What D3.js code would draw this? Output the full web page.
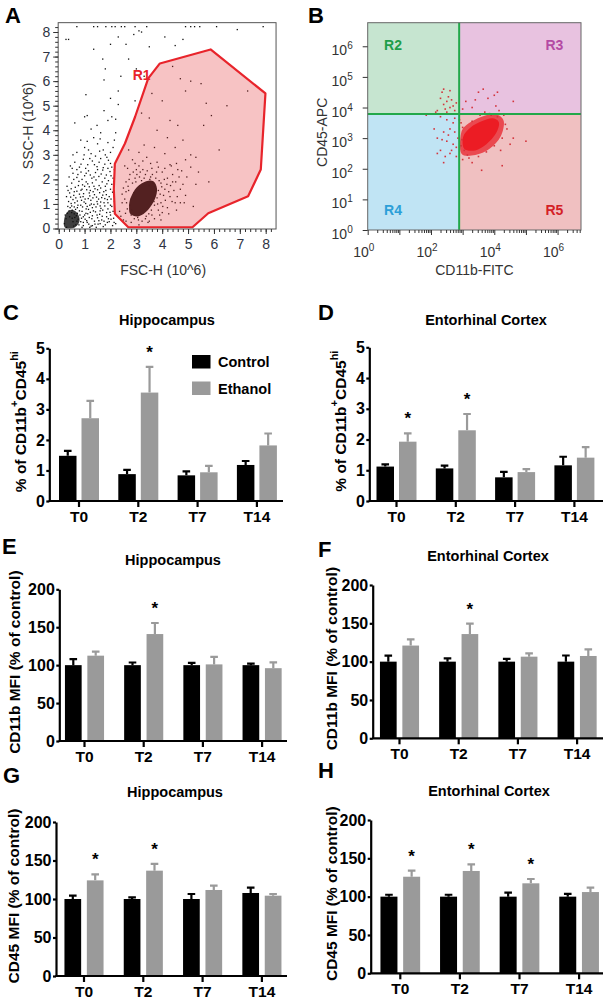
<!DOCTYPE html>
<html>
<head>
<meta charset="utf-8">
<script src="https://cdn.jsdelivr.net/npm/d3@7"></script>
<style>
  body { margin: 0; background: #fff; }
  svg { display: block; }
</style>
</head>
<body>
<svg id="fig" width="608" height="1000"></svg>
<script>
const FONT = 'Arial, "Liberation Sans", Helvetica, sans-serif';

// ---------- panel A : FSC / SSC events (10^6) ----------
const gateR1 = [[2.17,0.6],[2.69,0.05],[5.17,0.05],[5.78,0.62],[7.32,1.31],[7.81,2.4],[7.99,5.5],
  [5.87,7.29],[3.91,6.72],[3.46,6.11],[2.95,4.54],[2.56,3.46],[2.17,2.64],[2.13,1.6]];
const lowCloudCore = [[0.24,0.04],[0.62,0.04],[0.8,0.28],[0.76,0.55],[0.58,0.74],[0.36,0.7],[0.22,0.42]];
const mainCloudCore = [[2.78,0.58],[3.1,0.5],[3.45,0.75],[3.72,1.2],[3.8,1.62],[3.66,1.92],[3.38,1.92],[3.02,1.68],[2.78,1.25],[2.72,0.88]];
const scatterEvents = [
  [0.95,0.12],[1.1,0.25],[1.25,0.1],[1.38,0.3],[1.52,0.18],[1.66,0.35],[1.8,0.15],[1.95,0.28],[2.08,0.12],[1.02,0.38],
  [1.18,0.45],[1.45,0.05],[1.72,0.08],[0.85,0.28],[0.78,0.15],[0.82,0.55],[0.9,0.7],[1.05,0.62],[1.15,0.78],[1.3,0.52],
  [1.42,0.68],[1.58,0.58],[1.7,0.75],[1.85,0.48],[1.98,0.66],[2.12,0.42],[0.72,0.62],[0.95,0.48],[1.22,0.66],[1.5,0.44],
  [1.63,0.82],[0.65,0.78],[1.9,0.8],[0.35,0.9],[0.48,1.02],[0.6,0.88],[0.72,1.12],[0.85,0.95],[0.98,1.08],[1.1,0.9],
  [1.24,1.15],[1.36,0.98],[1.48,1.1],[1.6,0.92],[1.75,1.05],[1.88,1.18],[2.0,0.95],[2.15,1.1],[0.55,1.18],[1.02,1.2],
  [1.3,0.85],[0.3,1.3],[0.42,1.45],[0.58,1.35],[0.7,1.52],[0.84,1.28],[0.96,1.42],[1.08,1.58],[1.2,1.33],[1.33,1.5],
  [1.46,1.28],[1.58,1.46],[1.7,1.36],[1.82,1.55],[1.95,1.3],[2.08,1.48],[0.9,1.6],[1.4,1.62],[0.32,1.72],[0.5,1.85],
  [0.64,1.68],[0.78,1.92],[0.92,1.78],[1.06,1.9],[1.18,1.7],[1.3,1.86],[1.44,1.98],[1.56,1.75],[1.68,1.9],[1.8,1.72],
  [1.92,1.95],[2.05,1.8],[0.4,2.1],[0.55,2.25],[0.7,2.08],[0.86,2.3],[1.0,2.15],[1.15,2.35],[1.28,2.05],[1.42,2.28],
  [1.55,2.12],[1.7,2.38],[1.84,2.18],[1.98,2.32],[2.1,2.05],[0.45,2.55],[0.62,2.7],[0.8,2.5],[0.95,2.82],[1.12,2.6],
  [1.3,2.75],[1.48,2.52],[1.62,2.85],[1.78,2.62],[1.92,2.78],[2.05,2.5],[0.7,3.1],[1.0,3.3],[1.25,3.05],[1.5,3.45],
  [1.72,3.2],[1.9,3.5],[2.1,3.3],[0.85,3.6],[1.35,3.7],[2.2,3.9],[1.0,4.55],[1.1,4.6],[1.48,4.2],[1.62,3.9],
  [1.9,4.4],[2.05,4.55],[2.2,4.45],[2.3,5.05],[0.62,4.3],[1.25,4.05],[1.75,4.8],[2.0,5.3],[1.05,5.45],[1.8,6.5],
  [1.75,6.05],[2.4,6.2],[2.3,5.6],[1.35,7.3],[2.0,7.5],[2.3,7.8],[0.28,7.7],[0.38,7.7],[1.7,6.9],[2.6,7.5],
  [2.9,7.9],[3.2,8.0],[2.7,6.9],[0.7,8.22],[1.35,8.22],[1.5,8.22],[1.82,8.22],[2.05,8.22],[2.18,8.22],[2.42,8.22],
  [2.55,8.22],[2.95,8.22],[3.4,8.22],[4.9,8.22],[5.1,8.22],[5.25,8.22],[5.45,8.22],[6.1,8.22],[7.9,8.22],[4.1,7.8],
  [4.5,7.45],[4.8,7.7],[3.5,7.4],[6.9,8.1],[3.1,8.05],[0.22,0.2],[0.25,0.55],[0.3,0.05],[0.5,0.65],[0.62,0.45],
  [0.7,0.3],[0.58,0.1],[0.4,0.72],[0.28,0.4],[2.05,0.9],[2.2,0.2],[1.2,0.05],[0.9,0.05],
  [0.33,0.62],[0.44,0.85],[0.52,0.42],[0.6,0.6],[0.68,0.52],[0.75,0.38],[0.8,0.72],[0.88,0.42],[0.92,0.88],[1.0,0.55],
  [1.08,0.32],[1.12,0.6],[1.16,0.18],[1.2,0.95],[1.28,0.4],[1.34,0.72],[1.4,0.18],[1.44,0.88],[1.55,0.32],[1.6,0.72],
  [1.68,0.5],[1.75,0.3],[1.78,0.92],[1.85,0.65],[1.92,0.4],[2.0,0.55],[2.1,0.7],[0.38,1.1],[0.46,1.28],[0.52,0.75],
  [0.62,1.05],[0.66,1.25],[0.74,0.95],[0.8,1.4],[0.88,1.15],[0.94,1.3],[1.04,1.02],[1.14,1.22],[1.18,1.45],[1.26,1.0],
  [1.32,1.25],[1.38,1.38],[1.5,1.0],[1.54,1.2],[1.62,1.08],[1.66,1.26],[1.78,1.22],[1.84,1.38],[1.9,1.05],[2.02,1.2],
  [0.36,1.55],[0.48,1.62],[0.6,1.5],[0.76,1.75],[0.86,1.56],[1.0,1.72],[1.12,1.82],[1.22,1.55],[1.36,1.72],[1.5,1.58],
  [1.62,1.65],[1.74,1.5],[1.86,1.82],[2.0,1.6],[2.12,1.9],[0.58,2.0],[0.74,2.2],[0.9,2.0],[1.06,2.25],[1.22,2.18],
  [1.36,2.1],[1.5,2.4],[1.64,2.22],[1.78,2.05],[1.9,2.45],[2.02,2.15],[0.52,2.45],[0.7,2.4],[0.86,2.62],[1.04,2.45],
  [1.2,2.85],[1.38,2.6],[1.56,2.7],[1.72,2.48],[1.86,2.9],[2.0,2.65],[2.15,2.4],[0.42,0.48],[0.55,0.28],[0.66,0.15],
  [0.72,0.85],[0.5,0.92],[0.95,0.25],[1.06,0.8],[1.3,0.12],[1.48,0.55],[1.6,0.2],[1.88,0.25],[2.02,0.38],[2.14,0.25],
  [0.98,3.0],[1.15,3.2],[1.42,2.95],[1.58,3.15],[1.8,3.0],[2.0,3.1],[0.55,3.0],[1.1,3.55],[1.6,3.65],[2.15,3.6],
  // inside R1
  [2.55,2.55],[2.6,1.5],[2.45,1.05],[2.35,0.7],[2.5,0.35],[2.8,0.25],[3.1,0.15],[3.5,0.3],[3.9,0.55],[4.2,0.85],
  [4.5,1.05],[4.9,1.35],[5.3,1.8],[5.4,2.3],[5.8,1.9],[4.7,1.6],[4.4,1.9],[4.6,2.4],[4.9,2.8],[4.3,2.6],
  [4.0,2.3],[3.8,2.7],[3.4,2.9],[3.1,3.1],[2.85,2.8],[3.3,3.4],[3.7,3.3],[4.1,3.05],[4.5,3.3],[4.8,3.6],
  [5.1,3.0],[5.3,2.9],[4.2,3.7],[3.8,4.0],[3.5,4.5],[3.2,4.7],[3.6,5.5],[4.0,5.2],[4.3,4.4],[4.6,4.2],
  [4.9,5.6],[5.1,6.0],[4.7,6.1],[5.5,5.9],[5.7,5.1],[5.9,4.6],[3.0,6.5],[2.95,5.2],[2.75,4.0],[7.3,5.6],
  [6.2,3.2],[5.2,0.9],[3.3,6.2],[4.4,6.6],[2.7,3.2],[3.0,2.4],[6.5,5.0],[5.6,4.2],
  [2.6,1.9],[2.75,2.2],[2.95,2.05],[3.15,2.3],[3.35,2.2],[3.55,2.1],[3.75,2.05],[3.95,1.85],[4.1,1.6],[4.05,1.35],
  [3.95,1.05],[3.85,0.75],[3.6,0.55],[3.35,0.4],[3.05,0.45],[2.8,0.55],[2.65,0.8],[2.55,1.2],[2.7,1.55],[2.85,1.85],
  [3.65,1.85],[3.85,1.55],[3.8,1.25],[3.7,0.95],[2.75,0.95],[2.9,1.45],[3.2,1.95],[3.5,1.75],[4.3,1.3],[4.2,2.05],
  [2.5,1.65],[3.45,0.25],[4.0,0.65],[3.1,2.55],[3.6,2.45],[4.4,2.2],
  [2.62,1.05],[2.68,1.72],[2.72,2.0],[2.8,1.2],[2.82,0.75],[2.88,2.3],[2.92,0.4],[2.98,1.9],[3.02,2.2],[3.08,0.35],
  [3.12,2.1],[3.22,0.3],[3.25,2.4],[3.3,2.05],[3.38,0.5],[3.42,2.35],[3.48,0.6],[3.52,2.0],[3.58,0.75],[3.62,2.2],
  [3.68,1.1],[3.72,1.7],[3.78,2.3],[3.82,1.0],[3.88,1.95],[3.92,1.4],[3.98,1.7],[4.02,0.9],[4.08,2.0],[4.12,1.15],
  [4.18,1.8],[4.25,1.5],[4.32,1.75],[4.38,1.1],[4.45,1.55],[4.52,1.9],[4.58,1.3],[4.65,2.1],[4.7,1.05],[4.8,1.8],
  [2.45,1.4],[2.4,0.5],[2.58,0.62],[2.66,2.45],[2.95,2.65],[3.25,2.75],[3.55,2.65],[3.85,2.5],[4.1,2.45],[4.35,2.55],
  [4.55,2.65],[4.75,2.35],[4.95,2.1],[5.1,2.5],[4.85,1.05],[4.55,0.75],[4.25,0.6],[3.95,0.35],[3.7,0.4],[2.6,0.3]
];
const fscTicks = [0,1,2,3,4,5,6,7,8];
const sscTicks = [0,1,2,3,4,5,6,7,8];

// ---------- panel B : CD11b / CD45 (log10 of intensity) ----------
const gateCD11b = 2.89;   // log10
const gateCD45 = 3.79;    // log10
const cd45CoreHalo = [[2.96,2.5],[3.4,2.45],[3.85,2.65],[4.2,3.05],[4.3,3.55],[4.05,3.78],[3.6,3.7],[3.15,3.45],[2.95,3.15]];
const cd45Core = [[3.05,2.65],[3.4,2.6],[3.75,2.8],[4.05,3.15],[4.15,3.5],[3.95,3.65],[3.6,3.55],[3.25,3.35],[3.02,3.05]];
const cd45Events = [
  [2.3,4.3],[2.4,4.1],[2.5,4.2],[2.6,4.0],[2.55,4.35],[2.45,3.95],[2.65,4.25],[2.7,4.05],[2.35,4.5],[2.6,4.55],
  [2.5,3.85],[2.75,3.9],[2.2,3.9],[2.8,4.15],[2.4,4.6],[2.15,3.85],
  [2.3,3.7],[2.5,3.6],[2.7,3.5],[2.6,3.3],[2.4,3.2],[2.2,3.0],[2.5,2.9],[2.7,2.8],[2.3,2.6],[2.45,2.4],
  [2.6,2.5],[2.8,2.7],[2.1,3.3],[2.35,2.95],[2.55,3.1],[2.75,3.2],[2.85,3.0],[2.65,2.6],[2.4,2.2],[2.2,2.5],
  [2.8,2.4],[1.85,3.75],[2.9,3.6],[2.75,3.65],
  [3.1,4.2],[3.5,4.5],[3.65,4.6],[3.8,4.3],[4.0,4.4],[4.1,4.5],[4.6,4.2],[3.3,4.0],[3.4,4.25],[4.05,4.05],[3.0,3.95],
  [4.4,3.3],[4.6,3.0],[4.2,2.6],[3.0,2.3],[3.3,2.2],[4.5,2.8],[5.0,2.9],[4.1,3.7],[3.9,3.75],[2.95,3.5],
  [3.05,2.6],[4.25,2.1],[3.6,1.95],
  [2.95,2.75],[3.0,3.35],[3.15,2.45],[3.3,3.55],[3.5,2.4],[3.55,3.75],[3.75,2.55],[3.85,3.8],[4.0,2.75],[4.25,3.0],
  [4.35,3.45],[4.3,3.75],[4.15,3.9],[3.7,3.85],[3.2,2.35],[2.98,2.95]
];
const quadrants = ['R2','R3','R4','R5'];

// ---------- bar panels C-H ----------
const timepoints = ['T0','T2','T7','T14'];
const groups = ['Control','Ethanol'];

const hipPctCtrl = [1.48, 0.88, 0.84, 1.18];
const hipPctCtrlSem = [0.16, 0.14, 0.13, 0.13];
const hipPctEth = [2.71, 3.55, 0.94, 1.82];
const hipPctEthSem = [0.57, 0.84, 0.21, 0.39];
const hipPctSig = [0, 1, 0, 0];

const ecPctCtrl = [1.12, 1.06, 0.77, 1.16];
const ecPctCtrlSem = [0.07, 0.09, 0.18, 0.28];
const ecPctEth = [1.93, 2.30, 0.94, 1.41];
const ecPctEthSem = [0.27, 0.53, 0.10, 0.34];
const ecPctSig = [1, 1, 0, 0];

const hipCD11bCtrl = [100, 100, 100, 100];
const hipCD11bCtrlSem = [8, 3.5, 3, 2];
const hipCD11bEth = [112.5, 141, 101, 96];
const hipCD11bEthSem = [5.3, 14.6, 9.8, 7.7];
const hipCD11bSig = [0, 1, 0, 0];

const ecCD11bCtrl = [100, 100, 100, 100];
const ecCD11bCtrlSem = [7.8, 4.3, 3.5, 8];
const ecCD11bEth = [121, 136, 106.5, 107.4];
const ecCD11bEthSem = [8, 13.6, 4.4, 8.6];
const ecCD11bSig = [0, 1, 0, 0];

const hipCD45Ctrl = [100, 100, 100, 107.8];
const hipCD45CtrlSem = [4.3, 2, 6.5, 6.9];
const hipCD45Eth = [124.2, 136.8, 111.7, 104.3];
const hipCD45EthSem = [7.8, 8.7, 5.6, 2.2];
const hipCD45Sig = [1, 1, 0, 0];

const ecCD45Ctrl = [100, 100, 100, 100];
const ecCD45CtrlSem = [2.5, 2.5, 5.2, 3.5];
const ecCD45Eth = [126, 133.5, 117.4, 106];
const ecCD45EthSem = [8, 8.5, 5.6, 5.7];
const ecCD45Sig = [1, 1, 1, 0];

const pctTicks = [0, 1, 2, 3, 4, 5];
const mfiTicks = [0, 50, 100, 150, 200];

const svg = d3.select('#fig');

function letter(txt, x, y) {
  svg.append('text').attr('x', x).attr('y', y).text(txt)
    .attr('font-family', FONT).attr('font-weight', 'bold').attr('font-size', 22);
}

// ================= A =================
drawFlowA();
function drawFlowA() {
  const x = d3.scaleLinear().domain([0, 8]).range([58.7, 265.7]);
  const y = d3.scaleLinear().domain([0, 8]).range([228.5, 32]);
  const px = d => [x(d[0]), y(d[1])];
  const g = svg.append('g');
  const x0 = x(-0.02), x1 = x(8.4), yT = y(8.38), yB = y(0) + 0.5;

  g.append('path').datum(gateR1.map(px))
    .attr('d', d3.line().curve(d3.curveLinearClosed))
    .attr('fill', '#f7c3c4');

  g.append('path').datum(lowCloudCore.map(px))
    .attr('d', d3.line().curve(d3.curveCardinalClosed))
    .attr('fill', '#3e3e3e');
  g.append('path').datum(mainCloudCore.map(px))
    .attr('d', d3.line().curve(d3.curveCardinalClosed))
    .attr('fill', '#532121');

  g.selectAll(null).data(scatterEvents).join('rect')
    .attr('x', d => x(d[0]) - 0.6).attr('y', d => y(d[1]) - 0.6)
    .attr('width', 1.3).attr('height', 1.3)
    .attr('fill', d => d3.polygonContains(gateR1, d) ? '#4f1f1f' : '#111');

  g.append('path').datum(gateR1.map(px))
    .attr('d', d3.line().curve(d3.curveLinearClosed))
    .attr('fill', 'none').attr('stroke', '#e8242b').attr('stroke-width', 2.2)
    .attr('stroke-linejoin', 'round');

  g.append('text').attr('x', x(2.86)).attr('y', y(6.04)).text('R1')
    .attr('fill', '#e8242b').attr('font-family', FONT).attr('font-weight', 'bold').attr('font-size', 14);

  g.append('rect').attr('x', x0).attr('y', yT).attr('width', x1 - x0).attr('height', yB - yT)
    .attr('fill', 'none').attr('stroke', '#555').attr('stroke-width', 1);

  const styleAxis = a => {
    a.select('.domain').remove();
    a.selectAll('.tick line').attr('stroke', '#333');
    a.selectAll('text').attr('font-size', 14).attr('font-family', FONT).attr('fill', '#2e3444');
  };
  g.append('g').attr('transform', `translate(0,${yB})`)
    .call(d3.axisBottom(x).tickValues(d3.range(0, 8.4, 0.2)).tickSize(3).tickFormat('')).call(styleAxis);
  g.append('g').attr('transform', `translate(0,${yB})`)
    .call(d3.axisBottom(x).tickValues(fscTicks).tickSize(5).tickPadding(5)).call(styleAxis);
  g.append('g').attr('transform', `translate(${x0},0)`)
    .call(d3.axisLeft(y).tickValues(d3.range(0, 8.4, 0.2)).tickSize(3).tickFormat('')).call(styleAxis);
  g.append('g').attr('transform', `translate(${x0},0)`)
    .call(d3.axisLeft(y).tickValues(sscTicks).tickSize(5).tickPadding(3)).call(styleAxis);

  g.append('text').attr('transform', `translate(28,${(yT + yB) / 2}) rotate(-90)`)
    .attr('text-anchor', 'middle').attr('dominant-baseline', 'central')
    .attr('font-family', FONT).attr('font-size', 14).attr('fill', '#333').text('SSC-H (10^6)');
  g.append('text').attr('x', (x0 + x1) / 2 - 4).attr('y', 275).attr('text-anchor', 'middle')
    .attr('font-family', FONT).attr('font-size', 14).attr('fill', '#333').text('FSC-H (10^6)');
  letter('A', 5, 23);
}

// ================= B =================
drawFlowB();
function drawFlowB() {
  const x = d3.scaleLinear().domain([0, 6.74]).range([367.7, 581]);   // log10 CD11b
  const y = d3.scaleLinear().domain([0, 6.77]).range([230, 22.7]);    // log10 CD45
  const xl = d3.scaleLog().domain([1, Math.pow(10, 6.74)]).range([367.7, 581]);
  const yl = d3.scaleLog().domain([1, Math.pow(10, 6.77)]).range([230, 22.7]);
  const px = d => [x(d[0]), y(d[1])];
  const g = svg.append('g');
  const L = x(0), R = x(6.74), T = y(6.77), B = y(0);
  const gx = x(gateCD11b), gy = y(gateCD45);

  const quads = {
    R2: {x: L, y: T, w: gx - L, h: gy - T, fill: '#c6e5d0', text: '#1f9e4a', lx: 0.8, ly: 6.05},
    R3: {x: gx, y: T, w: R - gx, h: gy - T, fill: '#e8c2e0', text: '#b44aa4', lx: 5.9, ly: 6.05},
    R4: {x: L, y: gy, w: gx - L, h: B - gy, fill: '#c0e4f4', text: '#2c9fd8', lx: 0.8, ly: 0.65},
    R5: {x: gx, y: gy, w: R - gx, h: B - gy, fill: '#f0c0c1', text: '#d42027', lx: 5.9, ly: 0.65}
  };
  quadrants.forEach(q => {
    const d = quads[q];
    g.append('rect').attr('x', d.x).attr('y', d.y).attr('width', d.w).attr('height', d.h).attr('fill', d.fill);
  });

  g.append('path').datum(cd45CoreHalo.map(px))
    .attr('d', d3.line().curve(d3.curveCardinalClosed))
    .attr('fill', '#e8222a').attr('opacity', 0.75);
  g.append('path').datum(cd45Core.map(px))
    .attr('d', d3.line().curve(d3.curveCardinalClosed))
    .attr('fill', '#ec1c24');
  g.selectAll(null).data(cd45Events).join('rect')
    .attr('x', d => x(d[0]) - 0.8).attr('y', d => y(d[1]) - 0.8)
    .attr('width', 1.6).attr('height', 1.6).attr('fill', '#d3343c');

  g.append('line').attr('x1', gx).attr('x2', gx).attr('y1', T).attr('y2', B)
    .attr('stroke', '#22a84a').attr('stroke-width', 2);
  g.append('line').attr('x1', L).attr('x2', R).attr('y1', gy).attr('y2', gy)
    .attr('stroke', '#22a84a').attr('stroke-width', 2);

  quadrants.forEach(q => {
    const d = quads[q];
    g.append('text').attr('x', x(d.lx)).attr('y', y(d.ly)).text(q)
      .attr('text-anchor', 'middle').attr('dominant-baseline', 'central')
      .attr('fill', d.text).attr('font-family', FONT).attr('font-weight', 'bold').attr('font-size', 14);
  });

  g.append('rect').attr('x', L).attr('y', T).attr('width', R - L).attr('height', B - T)
    .attr('fill', 'none').attr('stroke', '#666').attr('stroke-width', 1);

  const majors = d3.range(0, 7).map(k => Math.pow(10, k));
  const minorsX = [];
  d3.range(0, 7).forEach(k => d3.range(2, 10).forEach(m => {
    if (m * Math.pow(10, k) < Math.pow(10, 6.74)) minorsX.push(m * Math.pow(10, k));
  }));
  const styleAxis = a => {
    a.select('.domain').remove();
    a.selectAll('.tick line').attr('stroke', '#333');
  };
  g.append('g').attr('transform', `translate(0,${B})`)
    .call(d3.axisBottom(xl).tickValues(minorsX).tickSize(3).tickFormat('')).call(styleAxis);
  g.append('g').attr('transform', `translate(0,${B})`)
    .call(d3.axisBottom(xl).tickValues(majors).tickSize(5).tickFormat('')).call(styleAxis);
  g.append('g').attr('transform', `translate(${L},0)`)
    .call(d3.axisLeft(yl).tickValues(majors).tickSize(5).tickFormat('')).call(styleAxis);

  const powLabel = (sel, k) => {
    sel.attr('font-family', FONT).attr('font-size', 14).attr('fill', '#333');
    sel.append('tspan').text('10');
    sel.append('tspan').attr('dy', -6).attr('font-size', 10).text(k);
  };
  [0, 2, 4, 6].forEach(k => {
    powLabel(g.append('text').attr('x', xl(Math.pow(10, k)) - 4).attr('y', 257).attr('text-anchor', 'middle'), k);
  });
  d3.range(0, 7).forEach(k => {
    powLabel(g.append('text').attr('x', L - 15).attr('y', yl(Math.pow(10, k)) + 9).attr('text-anchor', 'end'), k);
  });

  g.append('text').attr('transform', `translate(322,${(T + B) / 2 + 6}) rotate(-90)`)
    .attr('text-anchor', 'middle').attr('dominant-baseline', 'central')
    .attr('font-family', FONT).attr('font-size', 14).attr('fill', '#333').text('CD45-APC');
  g.append('text').attr('x', (L + R) / 2).attr('y', 275).attr('text-anchor', 'middle')
    .attr('font-family', FONT).attr('font-size', 14).attr('fill', '#333').text('CD11b-FITC');
  letter('B', 308, 23);
}

// ================= C - H =================
const pctLabel = 'pct';
const barPanels = [
  {letter: 'C', title: 'Hippocampus', ctrl: hipPctCtrl, ctrlSem: hipPctCtrlSem, eth: hipPctEth, ethSem: hipPctEthSem,
   sig: hipPctSig, yMax: 5, ticks: pctTicks, ylabel: pctLabel, legend: true,
   ax: 49.3, y0: 501, yTop: 348.3, xEnd: 283, c0: 79, step: 59.3, barW: 17.5, gap: 5,
   lx: 3, ly: 320, tx: 167, ty: 325, ylx: 20},
  {letter: 'D', title: 'Entorhinal Cortex', ctrl: ecPctCtrl, ctrlSem: ecPctCtrlSem, eth: ecPctEth, ethSem: ecPctEthSem,
   sig: ecPctSig, yMax: 5, ticks: pctTicks, ylabel: pctLabel,
   ax: 369.3, y0: 501, yTop: 347.3, xEnd: 603, c0: 396.5, step: 59.3, barW: 17.5, gap: 5,
   lx: 318, ly: 320, tx: 486, ty: 325, ylx: 340},
  {letter: 'E', title: 'Hippocampus', ctrl: hipCD11bCtrl, ctrlSem: hipCD11bCtrlSem, eth: hipCD11bEth, ethSem: hipCD11bEthSem,
   sig: hipCD11bSig, yMax: 200, ticks: mfiTicks, ylabel: 'CD11b MFI (% of control)',
   ax: 59.3, y0: 741, yTop: 589.3, xEnd: 287, c0: 84.5, step: 59.2, barW: 16.7, gap: 5.7,
   lx: 2, ly: 554, tx: 173, ty: 565, ylx: 14.5},
  {letter: 'F', title: 'Entorhinal Cortex', ctrl: ecCD11bCtrl, ctrlSem: ecCD11bCtrlSem, eth: ecCD11bEth, ethSem: ecCD11bEthSem,
   sig: ecCD11bSig, yMax: 200, ticks: mfiTicks, ylabel: 'CD11b MFI (% of control)',
   ax: 372.7, y0: 738.3, yTop: 585, xEnd: 603, c0: 399.5, step: 59.2, barW: 16.7, gap: 5.7,
   lx: 318, ly: 557, tx: 488, ty: 561, ylx: 331.5},
  {letter: 'G', title: 'Hippocampus', ctrl: hipCD45Ctrl, ctrlSem: hipCD45CtrlSem, eth: hipCD45Eth, ethSem: hipCD45EthSem,
   sig: hipCD45Sig, yMax: 200, ticks: mfiTicks, ylabel: 'CD45 MFI (% of control)',
   ax: 56, y0: 976, yTop: 822, xEnd: 287, c0: 84, step: 59.3, barW: 16.7, gap: 5.7,
   lx: 3, ly: 783, tx: 175, ty: 797, ylx: 13},
  {letter: 'H', title: 'Entorhinal Cortex', ctrl: ecCD45Ctrl, ctrlSem: ecCD45CtrlSem, eth: ecCD45Eth, ethSem: ecCD45EthSem,
   sig: ecCD45Sig, yMax: 200, ticks: mfiTicks, ylabel: 'CD45 MFI (% of control)',
   ax: 370.7, y0: 973.3, yTop: 820, xEnd: 603, c0: 400.3, step: 59.6, barW: 17, gap: 5.7,
   lx: 318, ly: 778, tx: 489, ty: 796, ylx: 331.5}
];

barPanels.forEach(drawBarPanel);

function drawBarPanel(p) {
  const g = svg.append('g').attr('font-family', FONT);
  const y = d3.scaleLinear().domain([0, p.yMax]).range([p.y0, p.yTop]);
  const x = d3.scaleBand().domain(timepoints)
    .range([p.c0 - p.step / 2, p.c0 + p.step * (timepoints.length - 0.5)]);
  const xs = d3.scaleBand().domain(groups)
    .range([-(p.barW + p.gap / 2), p.barW + p.gap / 2])
    .paddingInner(p.gap / (p.barW + p.gap));

  const series = [
    {name: 'Control', vals: p.ctrl, sem: p.ctrlSem, color: '#000'},
    {name: 'Ethanol', vals: p.eth, sem: p.ethSem, color: '#9a9a9a'}
  ];
  const idx = timepoints.map((t, i) => ({t, i}));

  series.forEach(s => {
    const bx = d => x(d.t) + x.bandwidth() / 2 + xs(s.name);
    g.selectAll(null).data(idx).join('rect')
      .attr('x', bx).attr('y', d => y(s.vals[d.i]))
      .attr('width', xs.bandwidth()).attr('height', d => y(0) - y(s.vals[d.i]))
      .attr('fill', s.color);
    g.selectAll(null).data(idx).join('path')
      .attr('d', d => {
        const cx = bx(d) + xs.bandwidth() / 2;
        const top = y(s.vals[d.i] + s.sem[d.i]);
        return `M${cx},${y(s.vals[d.i])}V${top}M${cx - 3.8},${top}H${cx + 3.8}`;
      })
      .attr('stroke', s.color).attr('stroke-width', 2.2).attr('fill', 'none');
    if (s.name === 'Ethanol') {
      g.selectAll(null).data(idx.filter(d => p.sig[d.i])).join('text')
        .attr('x', d => bx(d) + xs.bandwidth() / 2)
        .attr('y', d => y(s.vals[d.i] + s.sem[d.i]) - 9)
        .attr('text-anchor', 'middle').attr('font-size', 17).attr('font-weight', 'bold')
        .text('*');
    }
  });

  // axes
  g.append('g').attr('transform', `translate(${p.ax},0)`)
    .call(d3.axisLeft(y).tickValues(p.ticks).tickFormat(d3.format('d')).tickSize(3).tickPadding(1.5).tickSizeOuter(0))
    .call(a => {
      a.select('.domain').attr('stroke-width', 2.2).attr('stroke', '#000');
      a.selectAll('.tick line').attr('stroke-width', 2.2).attr('stroke', '#000');
      a.selectAll('text').attr('font-size', 16).attr('font-weight', 'bold')
        .attr('font-family', FONT).attr('fill', '#000');
    });
  g.append('g').attr('transform', `translate(0,${p.y0})`)
    .call(d3.axisBottom(x).tickSize(6).tickPadding(4).tickSizeOuter(0))
    .call(a => {
      a.select('.domain').remove();
      a.selectAll('.tick line').attr('stroke-width', 2.2).attr('stroke', '#000');
      a.selectAll('text').attr('font-size', 15.5).attr('font-weight', 'bold')
        .attr('font-family', FONT).attr('fill', '#000');
    });
  g.append('line').attr('x1', p.ax - 0.6).attr('x2', p.xEnd).attr('y1', p.y0).attr('y2', p.y0)
    .attr('stroke', '#000').attr('stroke-width', 2.2);

  // y label
  const yl = g.append('text')
    .attr('transform', `translate(${p.ylx},${(p.y0 + p.yTop) / 2 - 3}) rotate(-90)`)
    .attr('text-anchor', 'middle').attr('dominant-baseline', 'central')
    .attr('font-size', 15.5).attr('font-weight', 'bold');
  if (p.ylabel === pctLabel) {
    yl.append('tspan').text('% of CD11b');
    yl.append('tspan').attr('dy', -6).attr('font-size', 11).text('+');
    yl.append('tspan').attr('dy', 6).text('CD45');
    yl.append('tspan').attr('dy', -6).attr('font-size', 11).text('hi');
  } else {
    yl.text(p.ylabel);
  }

  g.append('text').attr('x', p.tx).attr('y', p.ty).attr('text-anchor', 'middle')
    .attr('font-size', 14.5).attr('font-weight', 'bold').text(p.title);
  letter(p.letter, p.lx, p.ly);

  if (p.legend) {
    const lg = g.append('g').attr('transform', 'translate(192,355)');
    series.forEach((s, i) => {
      lg.append('rect').attr('x', 0).attr('y', i * 26.5).attr('width', 18.5).attr('height', 13.5).attr('fill', s.color);
      lg.append('text').attr('x', 26).attr('y', i * 26.5 + 12).text(s.name)
        .attr('font-size', 14.5).attr('font-weight', 'bold');
    });
  }
}
</script>
</body>
</html>
